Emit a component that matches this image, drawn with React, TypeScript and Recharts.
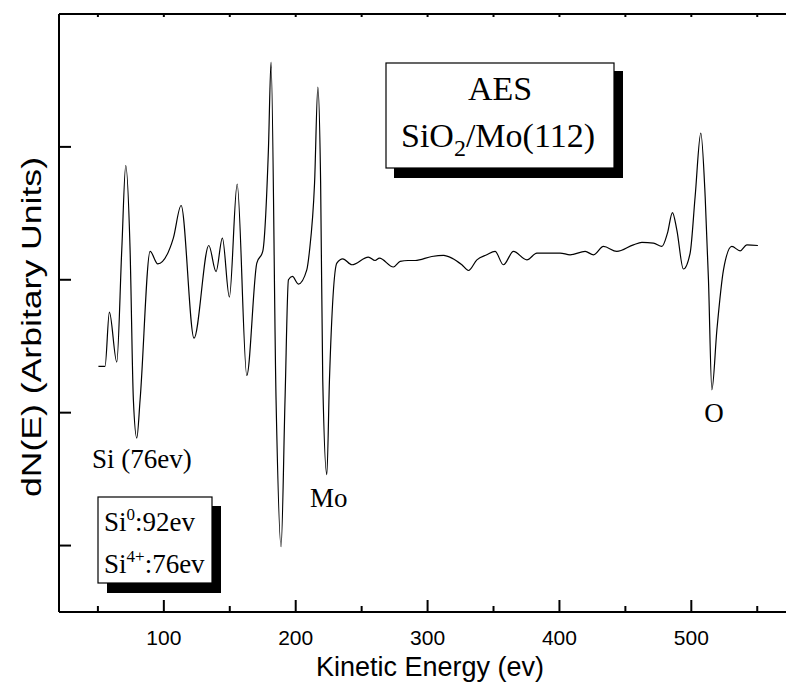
import { LineChart, Line, XAxis, YAxis } from "recharts";

// kinetic energy (eV) and dN(E)
const energy = [
  50.4, 55.4, 58.7, 64.3, 68.1, 71.1, 74.4, 76.9, 79.5, 82.0, 89.6, 95.4, 107.2,
  113.1, 122.9, 134.1, 139.6, 144.4, 149.7, 155.6, 162.9, 170.5, 175.0, 179.3,
  181.3, 185.1, 188.9, 191.9, 194.5, 197.5, 202.0, 208.4, 210.4, 214.3, 216.8,
  218.9, 220.5, 223.6, 225.6, 231.2, 235.7, 242.6, 255.1, 260.2, 263.5, 274.1,
  279.2, 285.2, 290.6, 303.2, 312.0, 318.4, 326.0, 331.0, 337.4, 344.9, 351.2,
  357.5, 365.1, 375.3, 382.9, 400.5, 408.1, 419.5, 425.8, 433.4, 443.5, 456.1,
  462.5, 471.3, 477.7, 481.9, 485.7, 489.0, 494.0, 499.1, 502.9, 507.2, 510.5,
  513.0, 515.6, 519.4, 524.4, 530.7, 537.0, 542.1, 550.5,
];
const signal = [
  -0.652, -0.652, -0.243, -0.619, 0.226, 0.86, 0.226, -0.903, -1.191, -0.903,
  0.213, 0.12, 0.314, 0.559, -0.439, 0.258, 0.062, 0.314, -0.13, 0.72, -0.72,
  0.126, 0.213, 0.978, 1.638, -0.903, -2.009, -0.903, 0.0, 0.025, -0.032, 0.075,
  0.213, 0.728, 1.45, 0.728, -0.752, -1.467, -0.752, 0.126, 0.158, 0.113, 0.171,
  0.145, 0.163, 0.096, 0.138, 0.145, 0.145, 0.175, 0.183, 0.163, 0.113, 0.07,
  0.15, 0.188, 0.213, 0.113, 0.213, 0.15, 0.201, 0.201, 0.188, 0.213, 0.188,
  0.251, 0.213, 0.263, 0.281, 0.276, 0.251, 0.351, 0.506, 0.376, 0.081, 0.201,
  0.627, 1.104, 0.627, 0.0, -0.828, -0.376, 0.075, 0.251, 0.218, 0.263, 0.258,
];

const xTicks = [50, 100, 150, 200, 250, 300, 350, 400, 450, 500, 550];
const yTicks = [-2, -1, 0, 1];

const data = energy.map((e, i) => ({ e, v: signal[i] }));

const serif = "'Liberation Serif', 'Times New Roman', serif";
const sans = "'Liberation Sans', Arial, sans-serif";

function BottomTick({ x, y, payload }: any) {
  const major = payload.value % 100 === 0;
  return (
    <g>
      <line x1={x} x2={x} y1={y} y2={y - (major ? 12 : 6)} stroke="#000" strokeWidth={2} />
      {major && (
        <text x={x} y={y + 33} textAnchor="middle" fontSize={21} fontFamily={sans} fill="#000">
          {payload.value}
        </text>
      )}
    </g>
  );
}

function TopTick({ x, y }: any) {
  return <line x1={x} x2={x} y1={y} y2={y + 3} stroke="#000" strokeWidth={2} />;
}

function LeftTick({ x, y }: any) {
  return <line x1={x} x2={x + 12} y1={y} y2={y} stroke="#000" strokeWidth={2} />;
}

export default function App() {
  return (
    <div
      style={{
        position: "absolute",
        left: 0,
        top: 0,
        width: 786,
        height: 683,
        overflow: "hidden",
        background: "#fff",
      }}
    >
      <LineChart
        width={850}
        height={683}
        data={data}
        margin={{ top: 0, right: 40, bottom: 41, left: 0 }}
      >
        <XAxis
          dataKey="e"
          type="number"
          domain={[20.5, 590]}
          ticks={xTicks}
          interval={0}
          height={30}
          allowDataOverflow
          axisLine={{ stroke: "#000", strokeWidth: 2 }}
          tickLine={false}
          tickSize={0}
          tickMargin={0}
          tick={<BottomTick />}
        />
        <XAxis
          xAxisId="top"
          orientation="top"
          dataKey="e"
          type="number"
          domain={[20.5, 590]}
          ticks={xTicks}
          interval={0}
          height={14}
          allowDataOverflow
          axisLine={{ stroke: "#000", strokeWidth: 2 }}
          tickLine={false}
          tickSize={0}
          tickMargin={0}
          tick={<TopTick />}
        />
        <YAxis
          type="number"
          domain={[-2.5, 2]}
          ticks={yTicks}
          interval={0}
          width={59}
          allowDataOverflow
          axisLine={{ stroke: "#000", strokeWidth: 2 }}
          tickLine={false}
          tickSize={0}
          tickMargin={0}
          tick={<LeftTick />}
        />
        <Line
          dataKey="v"
          type="monotone"
          stroke="#000"
          strokeWidth={1.2}
          dot={false}
          isAnimationActive={false}
        />

        {/* axis titles */}
        <text
          x={430}
          y={676}
          textAnchor="middle"
          fontSize={27}
          fontFamily={sans}
          fill="#000"
        >
          Kinetic Energy (ev)
        </text>
        <text
          x={0}
          y={0}
          transform="translate(41 327) rotate(-90)"
          textAnchor="middle"
          fontSize={27}
          fontFamily={sans}
          fill="#000"
          textLength={340}
          lengthAdjust="spacingAndGlyphs"
        >
          dN(E) (Arbitary Units)
        </text>

        {/* AES box */}
        <rect x={394} y={71} width={229} height={107} fill="#000" />
        <rect x={386} y={63} width={228} height={105} fill="#fff" stroke="#000" strokeWidth={1.2} />
        <text x={500} y={100} textAnchor="middle" fontSize={34} fontFamily={serif} fill="#000">
          AES
        </text>
        <text x={498} y={147} textAnchor="middle" fontSize={34} fontFamily={serif} fill="#000">
          SiO
          <tspan dy={9} fontSize={24}>2</tspan>
          <tspan dy={-9}>/Mo(112)</tspan>
        </text>

        {/* Si chemical state box */}
        <rect x={107} y={506} width={114} height={87} fill="#000" />
        <rect x={98} y={497} width={114} height={86} fill="#fff" stroke="#000" strokeWidth={1.2} />
        <text x={104} y={531} fontSize={27} fontFamily={serif} fill="#000">
          Si
          <tspan dy={-11} fontSize={17}>0</tspan>
          <tspan dy={11}>:92ev</tspan>
        </text>
        <text x={104} y={573} fontSize={27} fontFamily={serif} fill="#000">
          Si
          <tspan dy={-11} fontSize={17}>4+</tspan>
          <tspan dy={11}>:76ev</tspan>
        </text>

        {/* peak labels */}
        <text x={92} y={468} fontSize={27} fontFamily={serif} fill="#000">
          Si (76ev)
        </text>
        <text x={310} y={507} fontSize={27} fontFamily={serif} fill="#000">
          Mo
        </text>
        <text x={714} y={422} textAnchor="middle" fontSize={27} fontFamily={serif} fill="#000">
          O
        </text>
      </LineChart>
    </div>
  );
}
